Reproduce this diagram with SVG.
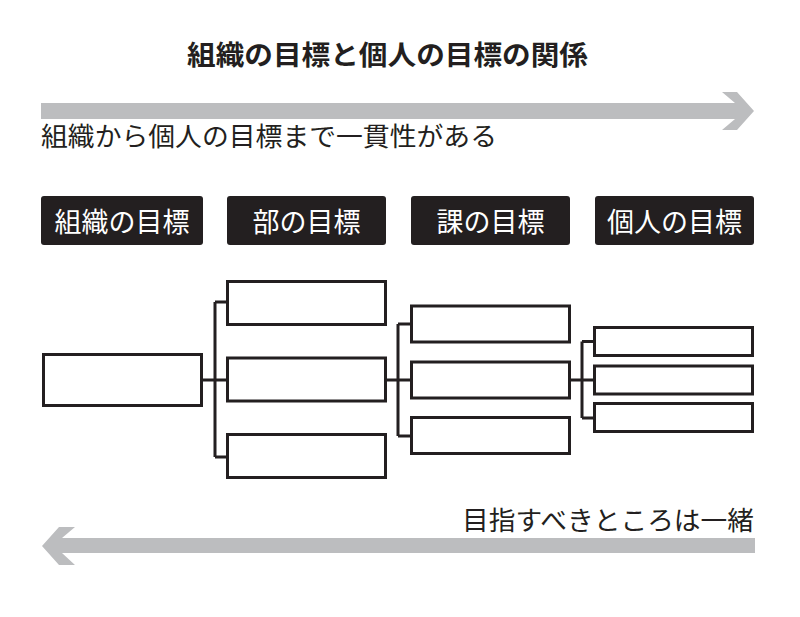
<svg xmlns="http://www.w3.org/2000/svg" width="800" height="617" viewBox="0 0 800 617">
<style>
  text { font-family: "Noto Sans CJK JP", "Noto Sans", sans-serif; }
  .title { font-size: 27px; font-weight: bold; fill: #231f20; }
  .cap { font-size: 26px; fill: #231f20; }
  .lbl rect { fill: #231f20; }
  .lbl text { font-size: 27px; fill: #ffffff; text-anchor: middle; }
  .box { fill: #ffffff; stroke: #231f20; stroke-width: 3; }
  .arrow { fill: #bcbdbf; }
  .conn { fill: none; stroke: #231f20; stroke-width: 3; }
</style>
<rect width="800" height="617" fill="#ffffff"/>

<text id="title" class="title" x="387.5" y="65" text-anchor="middle" textLength="401" lengthAdjust="spacingAndGlyphs">組織の目標と個人の目標の関係</text>

<g id="arrow-top">
  <polygon class="arrow" points="41,103 735,103 722,92 737,92 754,111 737,130 722,130 735,119 41,119"/>
  <text class="cap" x="41" y="146" textLength="456" lengthAdjust="spacingAndGlyphs">組織から個人の目標まで一貫性がある</text>
</g>

<g id="label-org" class="lbl"><rect x="41" y="196" width="162" height="49" rx="3"/><text x="122" y="232">組織の目標</text></g>
<g id="label-dept" class="lbl"><rect x="227" y="196" width="159" height="49" rx="3"/><text x="306.5" y="232">部の目標</text></g>
<g id="label-section" class="lbl"><rect x="411" y="196" width="159" height="49" rx="3"/><text x="490.5" y="232">課の目標</text></g>
<g id="label-person" class="lbl"><rect x="595" y="196" width="159" height="49" rx="3"/><text x="674.5" y="232">個人の目標</text></g>

<g id="connectors">
  <path class="conn" d="M202,380 H227 M215,302 V457 M215,302 H227 M215,457 H227"/>
  <path class="conn" d="M386,380 H411 M398,324 V436 M398,324 H411 M398,436 H411"/>
  <path class="conn" d="M570,380 H594 M582,341.5 V418 M582,341.5 H594 M582,418 H594"/>
</g>

<g id="node-root"><rect class="box" x="43.5" y="354.5" width="158" height="51"/></g>
<g id="node-b1"><rect class="box" x="227.5" y="281.5" width="158" height="43"/></g>
<g id="node-b2"><rect class="box" x="227.5" y="358" width="158" height="43"/></g>
<g id="node-b3"><rect class="box" x="227.5" y="434.5" width="158" height="43"/></g>
<g id="node-c1"><rect class="box" x="411.5" y="306" width="158" height="36"/></g>
<g id="node-c2"><rect class="box" x="411.5" y="362" width="158" height="36"/></g>
<g id="node-c3"><rect class="box" x="411.5" y="417.5" width="158" height="36"/></g>
<g id="node-d1"><rect class="box" x="594.5" y="327.5" width="158" height="28"/></g>
<g id="node-d2"><rect class="box" x="594.5" y="366" width="158" height="28"/></g>
<g id="node-d3"><rect class="box" x="594.5" y="403.5" width="158" height="28"/></g>

<g id="arrow-bottom">
  <text class="cap" x="754" y="530" text-anchor="end" textLength="292" lengthAdjust="spacingAndGlyphs">目指すべきところは一緒</text>
  <polygon class="arrow" points="755,538 62,538 75,527 59,527 42,546 59,565 75,565 62,553 755,553"/>
</g>
</svg>
